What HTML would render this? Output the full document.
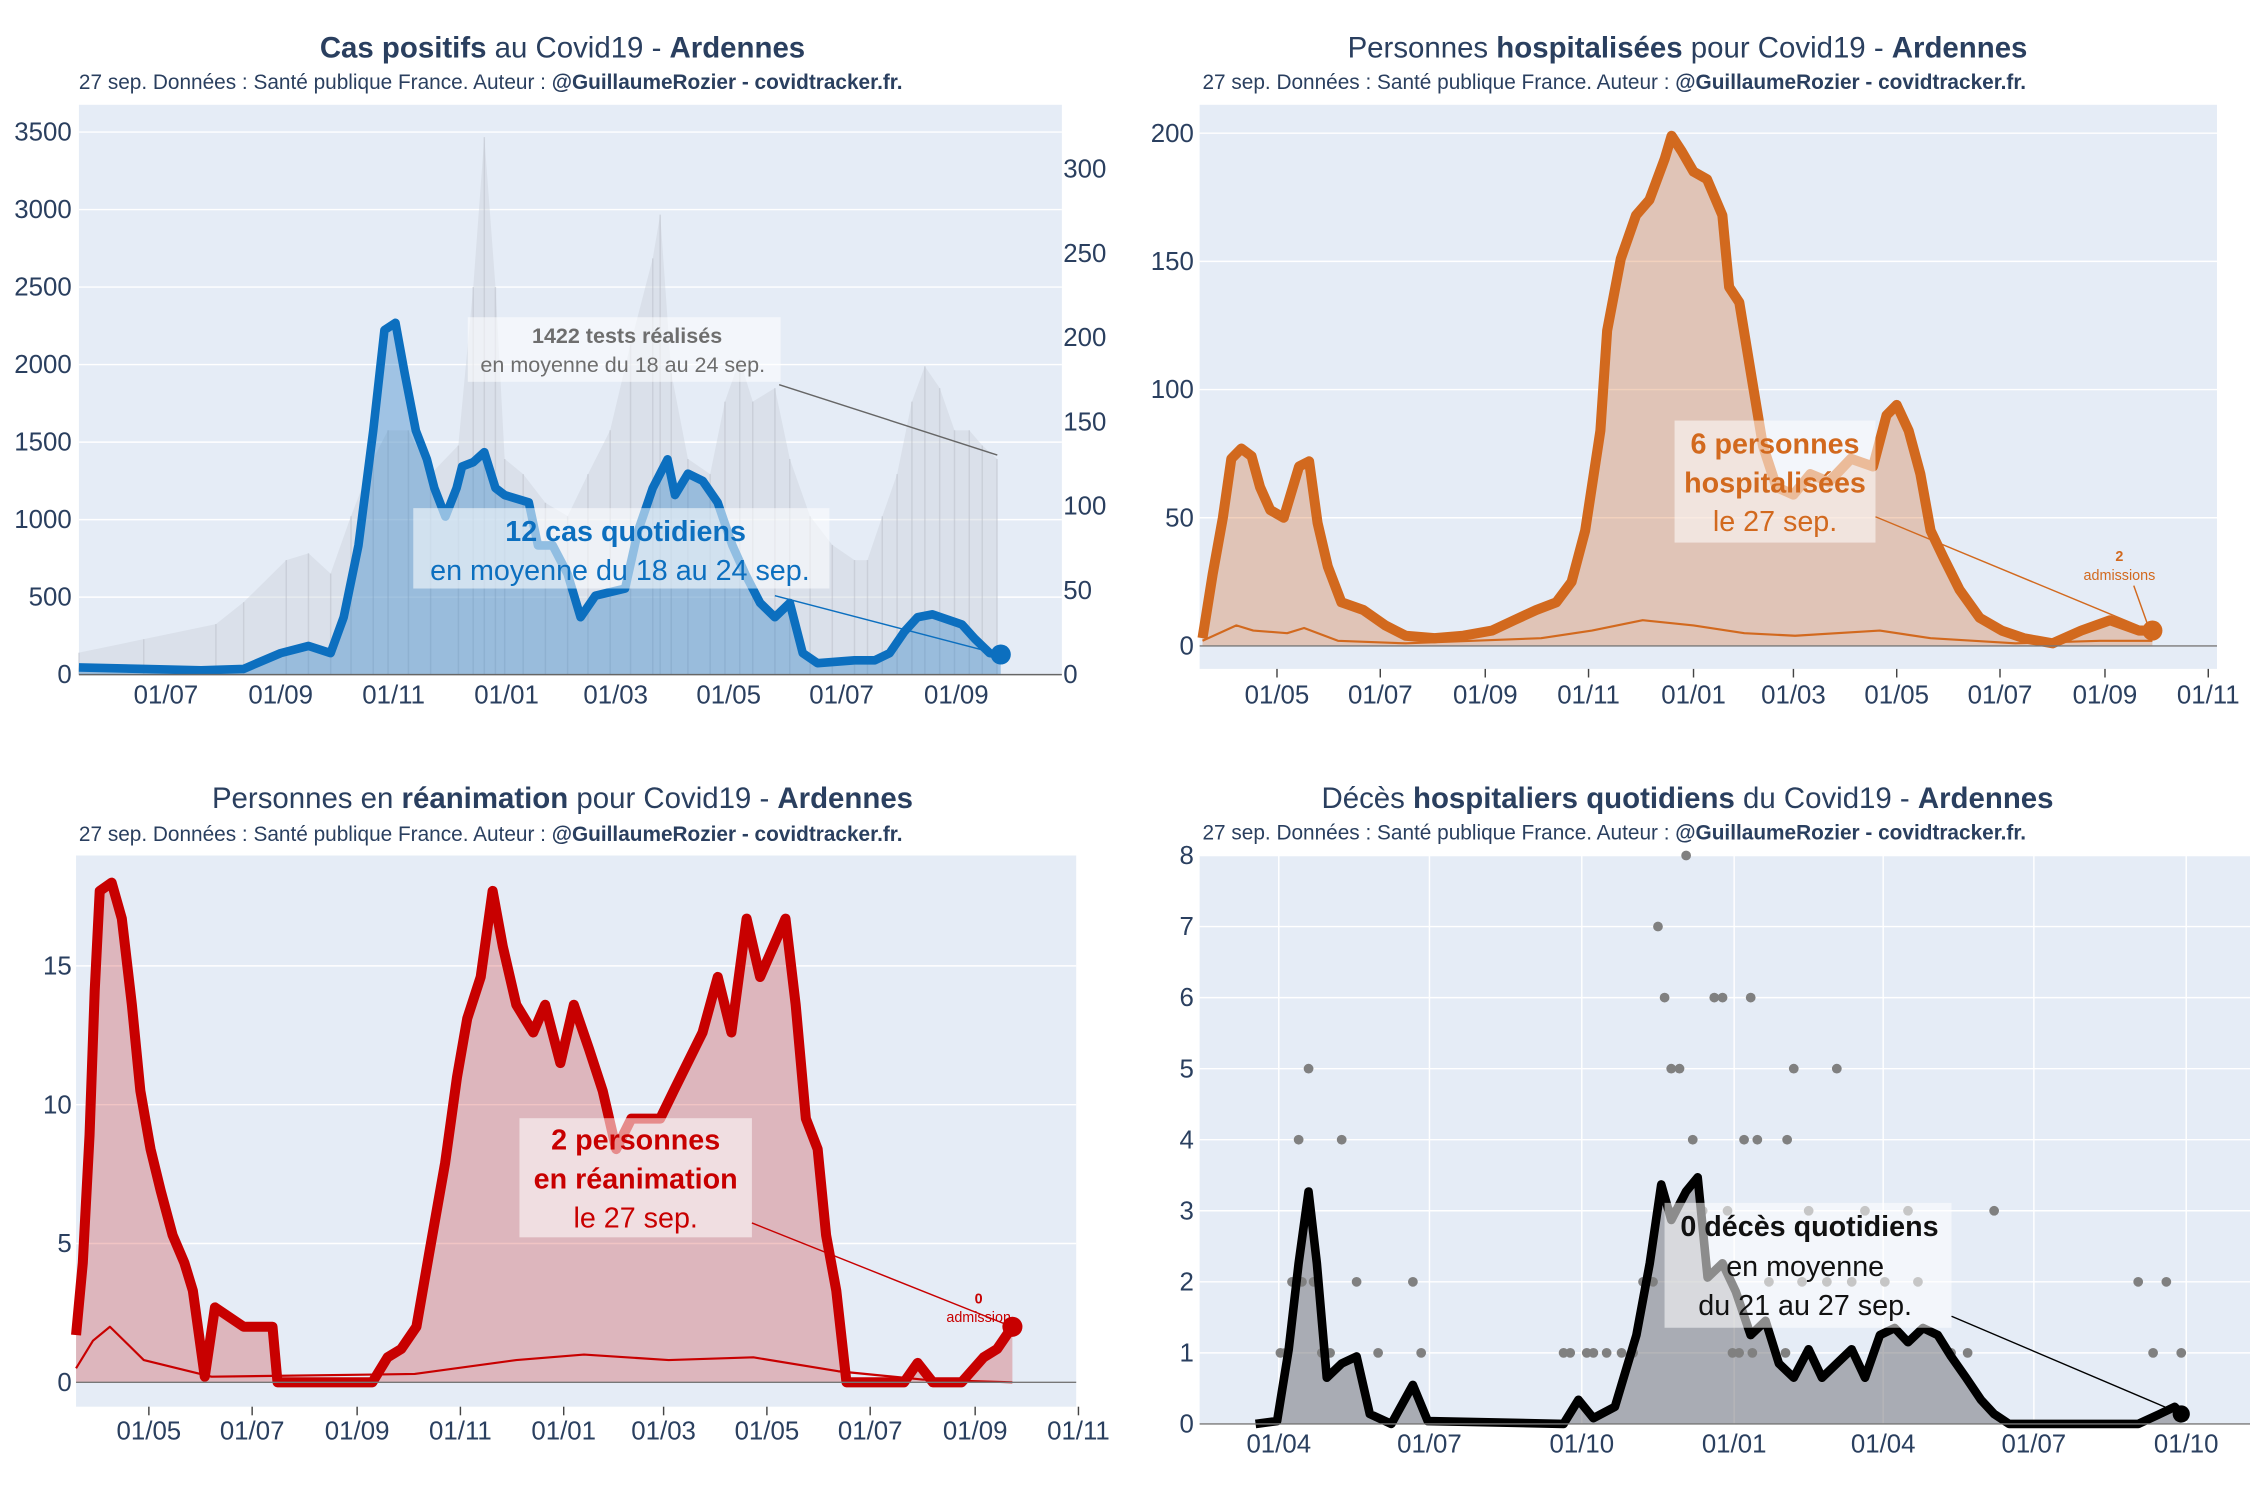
<!DOCTYPE html>
<html><head><meta charset="utf-8"><style>
html,body{margin:0;padding:0;background:#fff;}
svg{display:block;font-family:"Liberation Sans",sans-serif;}
</style></head><body>
<svg id="root" width="2250" height="1500" viewBox="0 0 1568 1045" preserveAspectRatio="none" xmlns="http://www.w3.org/2000/svg"></svg>
<script>
// ---- Panel 1: cases / tests (days since 2020-05-15)
const casesDays = [0,35,66,89,109,124,136,143,151,159,165,171,176,182,188,192,198,204,207,213,219,225,230,243,248,256,264,271,279,295,302,310,318,322,329,337,345,353,360,368,376,384,391,399,419,430,438,446,453,461,477,484,492,498];
const casesVals = [46,37,28,37,139,185,139,370,833,1574,2222,2269,1945,1574,1389,1204,1019,1204,1343,1370,1435,1204,1158,1111,833,833,648,370,509,556,926,1204,1389,1158,1296,1250,1111,833,648,463,370,463,139,74,93,93,139,278,370,389,324,231,139,130];
const testsDays = [0,35,74,89,112,124,136,147,159,167,178,190,205,213,219,225,230,240,252,264,275,287,298,310,314,320,329,341,349,357,364,376,384,395,407,419,426,434,442,450,457,465,473,481,488,496];
const testsVals = [13,21,30,43,68,72,60,94,128,145,145,119,136,230,319,230,128,119,102,94,119,145,196,247,273,179,128,119,162,187,162,170,128,94,77,68,68,94,119,162,183,170,145,145,136,128];
const p1LeftTicks = [0,500,1000,1500,2000,2500,3000,3500];
const p1RightTicks = [0,50,100,150,200,250,300];
const p1XLabels = ["01/07","01/09","01/11","01/01","01/03","01/05","01/07","01/09"];
const p1XDays = [47,109,170,231,290,351,412,474];
// ---- Panel 2: hospitalisations (days since 2020-03-18)
const hospDays = [0,6,12,17,23,29,34,40,48,57,63,68,74,82,95,108,120,137,154,171,184,197,209,218,226,235,239,247,256,264,273,277,283,290,298,307,311,317,324,331,339,349,359,370,383,396,404,410,417,424,430,438,447,459,472,485,502,519,536,553,561];
const hospVals = [3,28,50,73,77,74,62,53,50,70,72,48,31,17,14,8,4,3,4,6,10,14,17,25,45,84,123,151,168,174,190,199,193,185,182,168,140,134,106,78,62,59,67,64,73,70,90,94,84,67,45,34,22,11,6,3,1,6,10,6,6];
const admDays = [0,20,30,50,60,80,120,200,230,260,290,320,350,400,430,480,530,561];
const admVals = [2,8,6,5,7,2,1,3,6,10,8,5,4,6,3,1,2,2];
const p2Ticks = [0,50,100,150,200];
const p2XLabels = ["01/05","01/07","01/09","01/11","01/01","01/03","01/05","01/07","01/09","01/11"];
const p2XDays = [44,105,167,228,290,349,410,471,533,594];
// ---- Panel 3: ICU (days since 2020-03-19)
const icuDays = [0,4,8,11,14,21,27,33,38,44,50,57,64,69,76,82,99,116,119,175,184,192,201,209,218,225,231,239,246,252,260,270,277,286,294,303,311,319,328,345,353,370,379,387,396,404,419,425,431,438,443,449,455,489,497,506,523,536,544,553];
const icuVals = [1.7,4.3,8.9,14.1,17.7,18,16.7,13.6,10.5,8.4,6.9,5.3,4.3,3.3,0.2,2.7,2,2,0,0,0.9,1.2,2,4.8,7.9,11,13.1,14.6,17.7,15.7,13.6,12.6,13.6,11.5,13.6,12,10.5,8.4,9.5,9.5,10.5,12.6,14.6,12.6,16.7,14.6,16.7,13.6,9.5,8.4,5.3,3.3,0,0,0.7,0,0,0.9,1.2,2];
const icuAdmDays = [0,10,20,40,80,200,260,300,350,400,450,500,553];
const icuAdmVals = [0.5,1.5,2,0.8,0.2,0.3,0.8,1,0.8,0.9,0.4,0.1,0];
const p3Ticks = [0,5,10,15];
const p3XLabels = ["01/05","01/07","01/09","01/11","01/01","01/03","01/05","01/07","01/09","01/11"];
const p3XDays = [43,104,166,227,288,347,408,469,531,592];
// ---- Panel 4: deaths (days since 2020-03-18)
const deathDays = [0,13,20,26,32,37,43,52,61,69,82,95,104,186,195,204,217,230,238,245,251,260,267,273,282,290,299,308,316,325,334,342,360,368,377,386,394,403,412,420,429,438,446,455,533,546,555,559];
const deathVals = [0,0.04,1.05,2.26,3.27,2.26,0.65,0.85,0.95,0.14,0,0.55,0.04,0,0.34,0.08,0.24,1.25,2.26,3.37,2.87,3.27,3.47,2.06,2.26,1.86,1.25,1.45,0.85,0.65,1.05,0.65,1.05,0.65,1.25,1.35,1.15,1.35,1.25,0.95,0.65,0.34,0.14,0,0,0.14,0.24,0.14];
const dotDays = [15,22,26,32,35,52,61,74,95,100,186,204,221,234,243,247,251,260,256,264,277,282,299,295,303,325,321,351,334,368,394,446,533,550,542,559,240,250,270,285,310,330,345,360,380,400,420,430,288,292,300,320,18,28,40,45,190,200,212,228,236];
const dotVals = [1,2,4,5,2,4,2,1,2,1,1,1,1,2,7,6,5,8,5,4,6,6,6,4,4,5,4,5,3,3,3,3,2,2,1,1,2,3,3,3,2,2,2,2,2,2,1,1,1,1,1,1,1,2,1,1,1,1,1,1,2];
const p4Ticks = [0,1,2,3,4,5,6,7,8];
const p4XLabels = ["01/04","01/07","01/10","01/01","01/04","01/07","01/10"];
const p4XDays = [14,105,197,289,379,470,562];

const NS = "http://www.w3.org/2000/svg";
const root = document.getElementById('root');
function mk(tag, attrs, parent){const e=document.createElementNS(NS,tag);for(const k in attrs)e.setAttribute(k,attrs[k]);(parent||root).appendChild(e);return e;}
const TXT="#2a3f5f";

function panel(o){
  const g=mk('g',{});
  
  
  const bg=mk('rect',{x:o.x0,y:o.y0,width:o.x1-o.x0,height:o.y1-o.y0,fill:'#e5ecf6'},g);
  
  
  return g;
}
function title(g,cx,y,parts,subY,subX){
  const t=mk('text',{x:cx,y:y,'text-anchor':'middle','font-size':20.5,fill:TXT},g);
  
  
  parts.forEach(p=>{const s=mk('tspan',{'font-weight':p[1]?'bold':'normal'},t);s.textContent=p[0];});
  const st=mk('text',{x:subX,y:subY,'font-size':14.5,fill:TXT},g);
  
  
  const a=mk('tspan',{},st);a.textContent="27 sep. Données : Santé publique France. Auteur : ";
  const b=mk('tspan',{'font-weight':'bold'},st);b.textContent="@GuillaumeRozier - covidtracker.fr.";
}
function yGrid(g,ticks,ys,x0,x1,lx,anchor,grid){
  ticks.forEach(v=>{
    if(grid){const l=mk('line',{x1:x0,x2:x1,y1:ys(v),y2:ys(v),stroke:'#fff','stroke-width':1},g);
      
      }
    const t=mk('text',{x:lx,y:ys(v)+6,'text-anchor':anchor,'font-size':18,fill:TXT},g);
    
    
    t.textContent=v;
  });
}
function xTicks(g,labels,days,xs,ly,tickY,vgrid,y0,y1){
  labels.forEach((lab,i)=>{
    const x=xs(days[i]);
    if(vgrid){const l=mk('line',{x1:x,x2:x,y1:y0,y2:y1,stroke:'#fff','stroke-width':1},g);
      
      }
    if(tickY){const tk=mk('line',{x1:x,x2:x,y1:tickY,y2:tickY+6,stroke:'#444','stroke-width':1},g);
      
      }
    const t=mk('text',{x:x,y:ly,'text-anchor':'middle','font-size':18,fill:TXT},g);
    
    
    t.textContent=lab;
  });
}
function linePts(days,vals,xs,ys){return days.map((d,i)=>xs(d).toFixed(1)+','+ys(vals[i]).toFixed(1)).join(' ');}
function area(g,days,vals,xs,ys,fill,name){
  const pts=linePts(days,vals,xs,ys);
  const p=mk('polygon',{points:xs(days[0])+','+ys(0)+' '+pts+' '+xs(days[days.length-1])+','+ys(0),fill:fill},g);
  
  
}
function line(g,days,vals,xs,ys,stroke,w,name){
  const p=mk('polyline',{points:linePts(days,vals,xs,ys),fill:'none',stroke:stroke,'stroke-width':w,'stroke-linejoin':'round'},g);
  
  
}
function annot(g,bx,by,bw,bh,lines,color,name){
  const r=mk('rect',{x:bx,y:by,width:bw,height:bh,fill:'rgba(255,255,255,0.55)'},g);
  
  
  lines.forEach(l=>{
    const t=mk('text',{x:l[1],y:l[2],'text-anchor':'middle','font-size':l[3],'font-weight':l[4]?'bold':'normal',fill:color},g);
    
    
    t.textContent=l[0];
  });
}
function seg(g,x1,y1,x2,y2,c,name){const l=mk('line',{x1:x1,y1:y1,x2:x2,y2:y2,stroke:c,'stroke-width':1},g);
  
  }
function dot(g,x,y,r,c,name){const d=mk('circle',{cx:x,cy:y,r:r,fill:c},g);
  
  }

// ===== Panel 1
{
const g=panel({name:'cases-chart',x0:55,y0:73,x1:740,y1:470});
const xs=d=>55+d*1.29, ys=v=>470-v*54/500, yr=v=>470-v*58.7/50;
yGrid(g,p1LeftTicks,ys,55,740,50,'end',true);
yGrid(g,p1RightTicks,yr,55,740,741,'start',false);
area(g,testsDays,testsVals,xs,yr,'rgba(205,210,220,0.45)','tests-area');
testsDays.forEach((d,i)=>{const b=mk('line',{x1:xs(d),x2:xs(d),y1:470,y2:yr(testsVals[i]),stroke:'rgba(185,190,200,0.5)','stroke-width':1},g);
  
  });
area(g,casesDays,casesVals,xs,ys,'rgba(31,119,196,0.35)','cases-area');
line(g,casesDays,casesVals,xs,ys,'#0c6fbf',6,'cases-line');
seg(g,55,470,740,470,'#666','zero-line');
xTicks(g,p1XLabels,p1XDays,xs,490,0,false);
title(g,392,40,[["Cas positifs",1],[" au Covid19 - ",0],["Ardennes",1]],62,55);
annot(g,326,221,218,45,[["1422 tests réalisés",437,239,15,1],["en moyenne du 18 au 24 sep.",434,259,15,0]],'#6e6e6e','tests-annotation');
seg(g,543,268,695,317,'#666','tests-annotation-arrow');
annot(g,288,354,290,56,[["12 cas quotidiens",436,377,20,1],["en moyenne du 18 au 24 sep.",432,404,20,0]],'#0c6fbf','cases-annotation');
seg(g,540,415,697,456,'#0c6fbf','cases-annotation-arrow');
dot(g,xs(casesDays[casesDays.length-1]),ys(casesVals[casesVals.length-1]),7,'#0c6fbf','cases-last-point');
}
// ===== Panel 2
{
const g=panel({name:'hospitalisations-chart',x0:836,y0:73,x1:1545,y1:466});
const xs=d=>838+d*1.18, ys=v=>450-v*89.3/50;
yGrid(g,p2Ticks,ys,836,1545,832,'end',true);
area(g,hospDays,hospVals,xs,ys,'rgba(211,104,37,0.3)','hosp-area');
line(g,admDays,admVals,xs,ys,'#d2691e',1.5,'admissions-line');
line(g,hospDays,hospVals,xs,ys,'#d2691e',7,'hosp-line');
seg(g,836,450,1545,450,'#777','zero-line');
xTicks(g,p2XLabels,p2XDays,xs,490,466,false);
title(g,1176,40,[["Personnes ",0],["hospitalisées",1],[" pour Covid19 - ",0],["Ardennes",1]],62,838);
annot(g,1167,293,140,85,[["6 personnes",1237,316,20,1],["hospitalisées",1237,343,20,1],["le 27 sep.",1237,370,20,0]],'#d2691e','hosp-annotation');
seg(g,1307,360,1500,440,'#d2691e','hosp-annotation-arrow');
annot(g,1450,380,0,0,[["2",1477,391,10,1],["admissions",1477,404,10,0]],'#d2691e','admissions-annotation');
seg(g,1487,408,1497,436,'#d2691e','admissions-arrow');
dot(g,xs(hospDays[hospDays.length-1]),ys(hospVals[hospVals.length-1]),7,'#d2691e','hosp-last-point');
}
// ===== Panel 3
{
const g=panel({name:'icu-chart',x0:53,y0:596,x1:750,y1:980});
const xs=d=>53+d*1.18, ys=v=>963-v*96.7/5;
yGrid(g,p3Ticks,ys,53,750,50,'end',true);
area(g,icuDays,icuVals,xs,ys,'rgba(201,20,20,0.25)','icu-area');
line(g,icuAdmDays,icuAdmVals,xs,ys,'#c80000',1.5,'icu-admissions-line');
line(g,icuDays,icuVals,xs,ys,'#c80000',7,'icu-line');
seg(g,53,963,750,963,'#777','zero-line');
xTicks(g,p3XLabels,p3XDays,xs,1003,980,false);
title(g,392,563,[["Personnes en ",0],["réanimation",1],[" pour Covid19 - ",0],["Ardennes",1]],586,55);
annot(g,362,779,162,83,[["2 personnes",443,801,20,1],["en réanimation",443,828,20,1],["le 27 sep.",443,855,20,0]],'#c80000','icu-annotation');
seg(g,524,852,707,925,'#c80000','icu-annotation-arrow');
annot(g,660,900,0,0,[["0",682,908,10,1],["admission",682,921,10,0]],'#c80000','icu-admissions-annotation');
dot(g,xs(icuDays[icuDays.length-1]),ys(icuVals[icuVals.length-1]),7,'#c80000','icu-last-point');
}
// ===== Panel 4
{
const g=panel({name:'deaths-chart',x0:836,y0:596,x1:1568,y1:992});
const xs=d=>875+d*1.154, ys=v=>992-v*49.5;
yGrid(g,p4Ticks,ys,836,1568,832,'end',true);
xTicks(g,p4XLabels,p4XDays,xs,1012,0,true,596,992);
area(g,deathDays,deathVals,xs,ys,'rgba(120,120,125,0.55)','deaths-area');
dotDays.forEach((d,i)=>{dot(g,xs(d),ys(dotVals[i]),3.4,'#808080','daily-death-dot');});
line(g,deathDays,deathVals,xs,ys,'#000',6,'deaths-line');
seg(g,836,992,1568,992,'#777','zero-line');
title(g,1176,563,[["Décès ",0],["hospitaliers quotidiens",1],[" du Covid19 - ",0],["Ardennes",1]],585,838);
annot(g,1160,838,200,87,[["0 décès quotidiens",1261,861,20,1],["en moyenne",1258,889,20,0],["du 21 au 27 sep.",1258,916,20,0]],'#111','deaths-annotation');
seg(g,1360,917,1520,985,'#000','deaths-annotation-arrow');
dot(g,xs(deathDays[deathDays.length-1]),ys(deathVals[deathVals.length-1]),6,'#000','deaths-last-point');
}
</script>
</body></html>
